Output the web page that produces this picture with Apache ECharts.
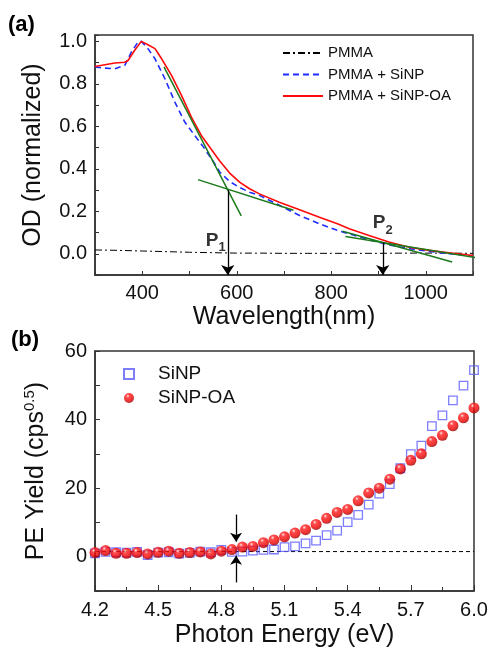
<!DOCTYPE html>
<html><head><meta charset="utf-8">
<script src="https://cdn.jsdelivr.net/npm/echarts@6/dist/echarts.min.js"></script>
<style>html,body{margin:0;padding:0;background:#fff}#c{width:491px;height:651px}</style>
</head><body><div id="c"></div>
<script>
// ---------- panel (a) data ----------
const wlRed = [300,321,342,363,370,384,398,412,427,441,462,483,504,525,546,564,585,606,627,648,690,733,775,813,838,880,922,965,1007,1049,1100];
const odRed = [0.882,0.890,0.898,0.902,0.910,0.958,1.0,0.984,0.966,0.918,0.840,0.746,0.643,0.557,0.492,0.437,0.380,0.337,0.306,0.282,0.243,0.207,0.172,0.141,0.118,0.086,0.055,0.031,0.016,0.005,-0.008];
const wlBlue = [300,321,342,363,377,391,398,412,427,448,469,490,511,532,553,564,585,606,627,648,690,733,775,813,838,880,922,965,1007,1050,1100];
const odBlue = [0.879,0.874,0.871,0.887,0.950,0.997,1.0,0.966,0.918,0.824,0.714,0.620,0.557,0.495,0.425,0.385,0.340,0.312,0.290,0.275,0.228,0.180,0.141,0.110,0.094,0.066,0.042,0.024,0.011,0.0,-0.010];
const wlPmma = [300,350,400,450,500,550,600,650,700,750,800,850,900,950,1000,1050,1100];
const odPmma = [0.018,0.016,0.013,0.010,0.007,0.005,0.003,0.003,0.002,0.002,0.002,0.002,0.002,0.003,0.003,0.003,0.002];
const tan1X = [446, 609.5], tan1Y = [0.88, 0.178];
const tan2X = [518, 720],   tan2Y = [0.349, 0.205];
const tan3X = [824, 1056],  tan3Y = [0.106, -0.039];
const tan4X = [830, 1133],  tan4Y = [0.0816, -0.028];
const p1 = [581, 0.30], p2 = [909, 0.053];
const xTicksA = [400, 600, 800, 1000];
const yTicksA = [0.0, 0.2, 0.4, 0.6, 0.8, 1.0];

// ---------- panel (b) data ----------
const energy = [4.20,4.25,4.30,4.35,4.40,4.45,4.50,4.55,4.60,4.65,4.70,4.75,4.80,4.85,4.90,4.95,5.00,5.05,5.10,5.15,5.20,5.25,5.30,5.35,5.40,5.45,5.50,5.55,5.60,5.65,5.70,5.75,5.80,5.85,5.90,5.95,6.00];
const yieldSiNP = [1.0,1.4,1.3,1.2,1.4,0.5,1.2,1.3,0.9,1.1,1.5,1.3,2.0,1.4,1.5,1.8,2.0,2.1,2.8,3.0,3.9,4.7,6.3,7.6,10.1,12.2,15.2,18.4,21.2,25.8,29.9,32.4,38.1,41.2,45.6,49.9,54.4];
const yieldSiNPOA = [1.2,1.8,1.0,1.0,1.2,0.8,1.3,1.6,1.0,1.2,1.4,0.8,1.6,2.1,2.8,3.0,4.1,4.9,5.8,6.9,7.9,9.4,11.2,12.9,13.8,16.3,18.6,20.0,22.6,25.6,28.1,30.0,33.6,35.4,38.2,40.5,43.4];
const baseLevel = 1.5;
const arrowE = 4.87;
const arrowDown = [12.3, 4.4], arrowUp = [-7.5, 0.3];

const pair = (xs, ys) => xs.map((x, i) => [x, ys[i]]);
const FONT = '"Liberation Sans", Arial, sans-serif';
const frame = { show: true, onZero: false, lineStyle: { color: '#333', width: 1.5 } };

const chart = echarts.init(document.getElementById('c'), null, { renderer: 'canvas' });

const green = { color: '#1c7a1c', width: 1.5 };
function tan(xs, ys, clip) {
  return { type: 'line', xAxisIndex: 0, yAxisIndex: 0, data: pair(xs, ys), symbol: 'none',
    lineStyle: green, itemStyle: { color: '#1c7a1c' }, clip: clip, silent: true, z: 3 };
}
const arrowLine = { color: '#000', width: 1.3, type: 'solid' };

const option = {
  animation: false,
  backgroundColor: '#fff',
  textStyle: { fontFamily: FONT },
  graphic: [
    { type: 'text', left: 8, top: 14, style: { text: '(a)', font: 'bold 22px ' + FONT, fill: '#000' } },
    { type: 'text', left: 11, top: 329, style: { text: '(b)', font: 'bold 22px ' + FONT, fill: '#000' } }
  ],
  legend: [
    { data: ['PMMA', 'PMMA + SiNP', 'PMMA + SiNP-OA'], orient: 'vertical', left: 277, top: 40,
      itemWidth: 40, itemHeight: 12, itemGap: 5.5, itemStyle: { opacity: 0 },
      textStyle: { fontSize: 15, lineHeight: 16, color: '#111', fontFamily: FONT } },
    { data: ['SiNP', 'SiNP-OA'], orient: 'vertical', left: 118, top: 358,
      itemWidth: 10, itemHeight: 10, itemGap: 2,
      textStyle: { fontSize: 19, lineHeight: 22, color: '#111', fontFamily: FONT, padding: [0, 0, 0, 19] } }
  ],
  grid: [
    { left: 95, top: 35, width: 378, height: 240, show: true, borderColor: '#333', borderWidth: 1.5 },
    { left: 95, top: 351, width: 379, height: 240, show: true, borderColor: '#333', borderWidth: 1.5 }
  ],
  xAxis: [
    { type: 'value', gridIndex: 0, min: 300, max: 1100, interval: 100,
      axisLine: frame, splitLine: { show: false },
      axisTick: { inside: true, length: 4, lineStyle: { color: '#333' } },
      axisLabel: { fontSize: 20, color: '#111', margin: 8, fontFamily: FONT,
        formatter: v => xTicksA.includes(Math.round(v)) ? String(Math.round(v)) : '' },
      name: 'Wavelength(nm)', nameLocation: 'middle', nameGap: 30,
      nameTextStyle: { fontSize: 25, color: '#111', fontFamily: FONT } },
    { type: 'value', gridIndex: 1, min: 4.2, max: 6.0, interval: 0.3,
      axisLine: frame, splitLine: { show: false },
      axisTick: { inside: true, length: 6, lineStyle: { color: '#333' } },
      minorTick: { show: true, splitNumber: 2, length: 4, lineStyle: { color: '#333' } },
      axisLabel: { fontSize: 20, color: '#111', margin: 9, fontFamily: FONT, formatter: v => v.toFixed(1) },
      name: 'Photon Energy (eV)', nameLocation: 'middle', nameGap: 32,
      nameTextStyle: { fontSize: 25, color: '#111', fontFamily: FONT } }
  ],
  yAxis: [
    { type: 'value', gridIndex: 0, min: -0.1, max: 1.03, interval: 0.1,
      axisLine: frame, splitLine: { show: false },
      axisTick: { inside: true, length: 4, lineStyle: { color: '#333' } },
      axisLabel: { fontSize: 20, color: '#111', margin: 8, fontFamily: FONT,
        formatter: v => { const t = Math.round(v * 10) / 10; return yTicksA.some(a => Math.abs(a - v) < 1e-6) ? t.toFixed(1) : ''; } },
      name: 'OD (normalized)', nameLocation: 'middle', nameGap: 49, nameRotate: 90,
      nameTextStyle: { fontSize: 25, color: '#111', fontFamily: FONT } },
    { type: 'value', gridIndex: 1, min: -10, max: 60, interval: 10,
      axisLine: frame, splitLine: { show: false },
      axisTick: { inside: true, length: 5, lineStyle: { color: '#333' } },
      axisLabel: { fontSize: 20, color: '#111', margin: 8, fontFamily: FONT,
        formatter: v => (Math.round(v) % 20 === 0 && v >= 0) ? String(Math.round(v)) : '' },
      name: '{n|PE Yield (cps}{s|0.5}{n|)}', nameLocation: 'middle', nameGap: 44, nameRotate: 90,
      nameTextStyle: { color: '#111', fontFamily: FONT,
        rich: { n: { fontSize: 25, color: '#111', fontFamily: FONT, lineHeight: 30 },
                s: { fontSize: 15, color: '#111', fontFamily: FONT, padding: [0, 0, 12, 0] } } } }
  ],
  series: [
    { name: 'PMMA', type: 'line', xAxisIndex: 0, yAxisIndex: 0, data: pair(wlPmma, odPmma), symbol: 'none',
      lineStyle: { color: '#000', width: 1, type: [7, 3, 2, 3] }, itemStyle: { color: '#000' }, z: 2 },
    { name: 'PMMA + SiNP', type: 'line', xAxisIndex: 0, yAxisIndex: 0, data: pair(wlBlue, odBlue), symbol: 'none',
      lineStyle: { color: '#1f2dff', width: 1.6, type: [6, 4] }, itemStyle: { color: '#1f2dff' }, z: 2 },
    { name: 'PMMA + SiNP-OA', type: 'line', xAxisIndex: 0, yAxisIndex: 0, data: pair(wlRed, odRed), symbol: 'none',
      lineStyle: { color: '#ff0a0a', width: 1.6 }, itemStyle: { color: '#ff0a0a' }, z: 2 },
    tan(tan1X, tan1Y, true),
    tan(tan2X, tan2Y, true),
    tan(tan3X, tan3Y, true),
    tan(tan4X, tan4Y, false),
    { type: 'scatter', xAxisIndex: 0, yAxisIndex: 0, symbolSize: 0, silent: true, z: 5,
      data: [
        { value: [p1[0], 0.063], label: { show: true, position: 'left', distance: 2, formatter: '{p|P}{s|1}' } },
        { value: [p2[0], p2[1]], label: { show: true, position: 'top', distance: 6, formatter: '{p|P}{s|2}' } }
      ],
      label: { rich: {
        p: { fontSize: 19, fontWeight: 'bold', color: '#000', fontFamily: FONT },
        s: { fontSize: 13, fontWeight: 'bold', color: '#000', fontFamily: FONT, padding: [14, 0, 0, 0] } } },
      markLine: { silent: true, symbol: ['none', 'arrow'], symbolSize: 10, label: { show: false },
        lineStyle: arrowLine, animation: false,
        data: [
          [{ coord: [p1[0], p1[1]] }, { coord: [p1[0], -0.1] }],
          [{ coord: [p2[0], p2[1]] }, { coord: [p2[0], -0.1] }]
        ] } },
    // panel (b)
    { type: 'line', xAxisIndex: 1, yAxisIndex: 1, symbol: 'none', silent: true, z: 1,
      data: [[energy[0], baseLevel], [energy[energy.length - 1], baseLevel]],
      lineStyle: { color: '#000', width: 1, type: [4, 3] } },
    { type: 'scatter', xAxisIndex: 1, yAxisIndex: 1, symbolSize: 0, silent: true, z: 5, data: [],
      markLine: { silent: true, symbol: ['none', 'arrow'], symbolSize: 9, label: { show: false },
        lineStyle: arrowLine, animation: false,
        data: [
          [{ coord: [arrowE, arrowDown[0]] }, { coord: [arrowE, arrowDown[1]] }],
          [{ coord: [arrowE, arrowUp[0]] }, { coord: [arrowE, arrowUp[1]] }]
        ] } },
    { name: 'SiNP', type: 'scatter', xAxisIndex: 1, yAxisIndex: 1, data: pair(energy, yieldSiNP),
      symbol: 'rect', symbolSize: 8.5, z: 3,
      itemStyle: { color: 'rgba(255,255,255,0)', borderColor: '#5c5cff', borderWidth: 1.3 } },
    { name: 'SiNP-OA', type: 'scatter', xAxisIndex: 1, yAxisIndex: 1, data: pair(energy, yieldSiNPOA),
      symbol: 'circle', symbolSize: 11, z: 4,
      itemStyle: { color: new echarts.graphic.RadialGradient(0.38, 0.3, 0.7, [
        { offset: 0, color: '#ffe0e0' }, { offset: 0.25, color: '#ff2020' }, { offset: 0.7, color: '#ee0000' }, { offset: 1, color: '#a00000' }]) } }
  ]
};
chart.setOption(option);
</script>
</body></html>
